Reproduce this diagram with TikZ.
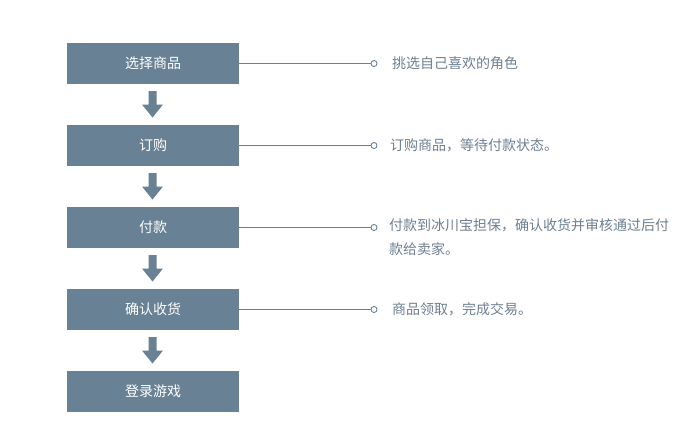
\documentclass[tikz,border=0pt]{standalone}
\usepackage{fontspec}
\usepackage{tikz}
\usetikzlibrary{positioning}
\newfontfamily\cjk{Noto Sans CJK SC}
\definecolor{slateblue}{RGB}{104,129,148}
\definecolor{notegray}{RGB}{110,128,145}

\begin{document}
\begin{tikzpicture}[x=1pt,y=-1pt,
    stepbox/.style={fill=slateblue, minimum width=172pt, minimum height=41pt, inner sep=0pt, text=white, font=\cjk\fontsize{14}{16}\selectfont},
    dot/.style={circle, draw=slateblue, fill=white, line width=0.9pt, minimum size=6pt, inner sep=0pt},
    note/.style={anchor=west, text=notegray, align=left, inner sep=0pt, font=\cjk\fontsize{14}{24}\selectfont},
    downarrow/.style={fill=slateblue, draw=none}]
    % Canvas
    \fill[white] (0,0) rectangle (690,432);
    \useasboundingbox (0,0) rectangle (690,432);

    % Steps
    \foreach \y/\name/\txt in {63.5/s1/选择商品, 145.5/s2/订购, 227.5/s3/付款, 309.5/s4/确认收货, 391.5/s5/登录游戏} {
        \node[stepbox] (\name) at (153,\y) {\txt};
    }

    % Arrows between steps
    \foreach \y in {91, 173, 255, 337} {
        \fill[downarrow] (148.5,\y) -- (156.5,\y) -- (156.5,\y+13.5) -- (163,\y+13.5)
            -- (152.5,\y+26.5) -- (142,\y+13.5) -- (148.5,\y+13.5) -- cycle;
    }

    % Notes
    \foreach \name/\y in {s1/63.5, s2/145.5, s3/227.5, s4/309.5} {
        \node[dot] (d\name) at (374,\y) {};
        \draw[slateblue, line width=0.9pt] (\name.east) -- (d\name.west);
    }
    \node[note] (n1) at (392,63) {挑选自己喜欢的角色};
    \node[note] (n2) at (390,145.5) {订购商品，等待付款状态。};
    \node[note, anchor=north west] (n3) at (389,218) {付款到冰川宝担保，确认收货并审核通过后付\\款给卖家。};
    \node[note] (n4) at (392,309.5) {商品领取，完成交易。};
\end{tikzpicture}
\end{document}
